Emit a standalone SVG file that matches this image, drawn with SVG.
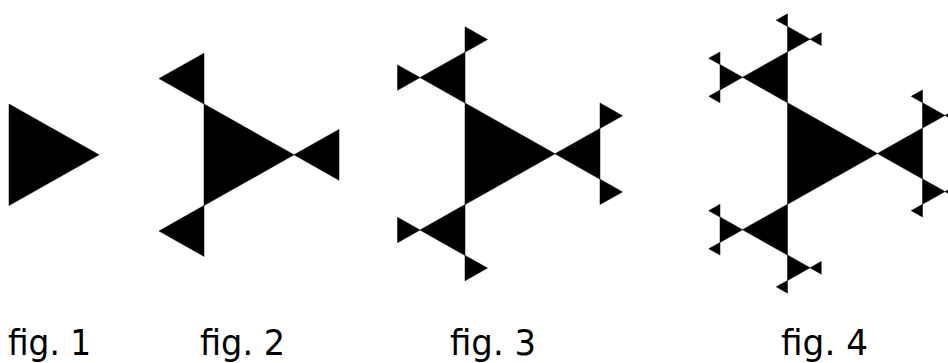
<svg xmlns="http://www.w3.org/2000/svg" xmlns:xlink="http://www.w3.org/1999/xlink" width="948" height="363" viewBox="0 0 948 363">
<style>
.tri{fill:#000;stroke:#000;stroke-width:0.5;stroke-linejoin:miter}
.lbl{font-family:"DejaVu Sans Condensed","DejaVu Sans","Liberation Sans",sans-serif;font-size:35px;fill:#000}
</style>
<defs>
<g id="lv0" class="tri">
<polygon points="0,0 0,101.6 90,50.8"/>
</g>
<g id="lv1" class="tri">
<polygon points="90,50.8 135,76.2 135,25.4"/>
<polygon points="0,0 0,-50.8 -45,-25.4"/>
<polygon points="0,101.6 0,152.4 -45,127"/>
</g>
<g id="lv2" class="tri">
<polygon points="135,25.4 135,0 157.5,12.7"/>
<polygon points="135,76.2 135,101.6 157.5,88.9"/>
<polygon points="0,-50.8 0,-76.2 22.5,-63.5"/>
<polygon points="-45,-25.4 -67.5,-38.1 -67.5,-12.7"/>
<polygon points="0,152.4 0,177.8 22.5,165.1"/>
<polygon points="-45,127 -67.5,139.7 -67.5,114.3"/>
</g>
<g id="lv3" class="tri">
<polygon points="135,0 135,-12.7 123.75,-6.35"/>
<polygon points="157.5,12.7 168.75,6.35 168.75,19.05"/>
<polygon points="135,101.6 135,114.3 123.75,107.95"/>
<polygon points="157.5,88.9 168.75,82.55 168.75,95.25"/>
<polygon points="0,-76.2 0,-88.9 -11.25,-82.55"/>
<polygon points="22.5,-63.5 33.75,-69.85 33.75,-57.15"/>
<polygon points="-67.5,-38.1 -67.5,-50.8 -78.75,-44.45"/>
<polygon points="-67.5,-12.7 -67.5,0 -78.75,-6.35"/>
<polygon points="0,177.8 0,190.5 -11.25,184.15"/>
<polygon points="22.5,165.1 33.75,158.75 33.75,171.45"/>
<polygon points="-67.5,114.3 -67.5,101.6 -78.75,107.95"/>
<polygon points="-67.5,139.7 -67.5,152.4 -78.75,146.05"/>
</g>
</defs>
<rect width="948" height="363" fill="#fff"/>
<g id="fig1" transform="translate(9,104)">
<use xlink:href="#lv0"/>
</g>
<g id="fig2" transform="translate(204,104)">
<use xlink:href="#lv0"/>
<use xlink:href="#lv1"/>
</g>
<g id="fig3" transform="translate(465,103)">
<use xlink:href="#lv0"/>
<use xlink:href="#lv1"/>
<use xlink:href="#lv2"/>
</g>
<g id="fig4" transform="translate(787.5,102.7)">
<use xlink:href="#lv0"/>
<use xlink:href="#lv1"/>
<use xlink:href="#lv2"/>
<use xlink:href="#lv3"/>
</g>
<g id="connectors"/>
<g id="labels">
<text class="lbl" x="8" y="355" textLength="83" lengthAdjust="spacingAndGlyphs">fig. 1</text>
<text class="lbl" x="200" y="355" textLength="85" lengthAdjust="spacingAndGlyphs">fig. 2</text>
<text class="lbl" x="450" y="355" textLength="86" lengthAdjust="spacingAndGlyphs">fig. 3</text>
<text class="lbl" x="781" y="355" textLength="87" lengthAdjust="spacingAndGlyphs">fig. 4</text>
</g>
</svg>
